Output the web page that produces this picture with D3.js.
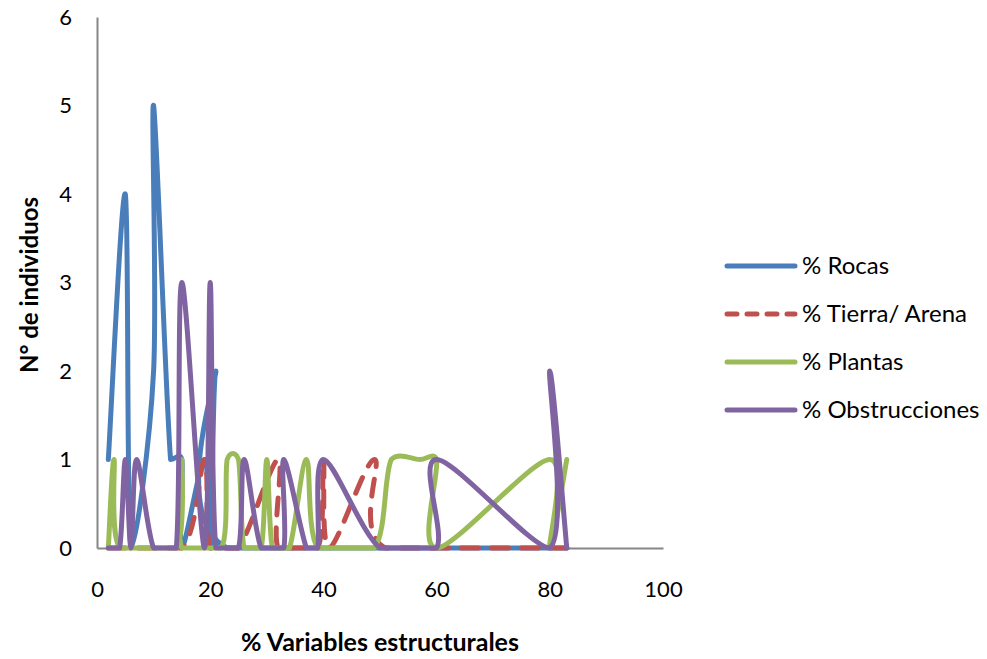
<!DOCTYPE html>
<html>
<head>
<meta charset="utf-8">
<script src="https://cdn.jsdelivr.net/npm/d3@7"></script>
<style>
    body { margin: 0; background: #fff; }
    svg text { font-family: Lato, "Open Sans", sans-serif; fill: #000; }
</style>
</head>
<body>
<svg id="chart"></svg>
<script>
const seriesNames = ["% Rocas", "% Tierra/ Arena", "% Plantas", "% Obstrucciones"];
const colors = ["#4a7ebb", "#c0504d", "#9bbb59", "#8064a2"];

// % values (x) and N° de individuos (y)
const rocasX = [2, 5, 6, 10, 10, 13, 15, 15, 19, 20, 21, 23, 83];
const rocasY = [1, 4, 0, 2, 5, 1, 1, 0, 1, 0, 2, 0, 0];

const tierraX = [2, 15, 19, 20, 25, 32, 32, 39, 40, 41, 49, 51, 83];
const tierraY = [0, 0, 1, 0, 0, 1, 0, 0, 1, 0, 1, 0, 0];

const plantasX = [2, 3, 4, 14, 15, 15, 22, 23, 25, 26, 29, 30, 31, 34, 37, 39, 49, 52, 57, 60, 60, 80, 80, 83];
const plantasY = [0, 1, 0, 0, 1, 0, 0, 1, 1, 0, 0, 1, 0, 0, 1, 0, 0, 1, 1, 1, 0, 1, 0, 1];

const obstX = [2, 4, 5, 6, 7, 10, 14, 15, 19, 20, 21, 25, 26, 29, 33, 33, 37, 39, 40, 50, 60, 60, 80, 80, 83];
const obstY = [0, 0, 1, 0, 1, 0, 0, 3, 0, 3, 0, 0, 1, 0, 0, 1, 0, 0, 1, 0, 0, 1, 0, 2, 0];

const xTicks = [0, 20, 40, 60, 80, 100];
const yTicks = [0, 1, 2, 3, 4, 5, 6];

/* ===== Chart config ===== */
const chart = {
    width: 987,
    height: 659,
    left: 97,
    right: 663,
    top: 17,
    bottom: 548,
    overshoot: 8, // px a smoothed line may rise above its segment (Excel-like bumps)
    svg: d3.select('#chart'),
    x: d3.scaleLinear().domain([0, 100]),
    y: d3.scaleLinear().domain([0, 6])
};

chart.x.range([chart.left, chart.right]);
chart.y.range([chart.bottom, chart.top]);

const data = [
    d3.zip(rocasX, rocasY),
    d3.zip(tierraX, tierraY),
    d3.zip(plantasX, plantasY),
    d3.zip(obstX, obstY)
];

// Catmull-Rom style bezier, control points kept (almost) inside each segment's
// vertical span so flat runs at 0 don't dip under the axis
function smoothPath(points) {
    const p = points.map(d => [chart.x(d[0]), chart.y(d[1])]);
    const n = p.length;
    const m = p.map((d, i) => {
        const a = p[Math.max(i - 1, 0)], b = p[Math.min(i + 1, n - 1)];
        return [(b[0] - a[0]) / 2, (b[1] - a[1]) / 2];
    });
    const path = d3.path();
    path.moveTo(p[0][0], p[0][1]);
    for (let i = 0; i < n - 1; i++) {
        const lo = Math.min(p[i][1], p[i + 1][1]) - chart.overshoot;
        const hi = Math.max(p[i][1], p[i + 1][1]);
        const clamp = v => Math.max(lo, Math.min(hi, v));
        path.bezierCurveTo(
            p[i][0] + m[i][0] / 3, clamp(p[i][1] + m[i][1] / 3),
            p[i + 1][0] - m[i + 1][0] / 3, clamp(p[i + 1][1] - m[i + 1][1] / 3),
            p[i + 1][0], p[i + 1][1]);
    }
    return path.toString();
}

chart.svg.attr('width', chart.width).attr('height', chart.height);

// Axes: plain gray lines, no tick marks
const xAxis = d3.axisBottom(chart.x).tickValues(xTicks).tickFormat(d3.format('d')).tickSize(0).tickPadding(33);
const yAxis = d3.axisLeft(chart.y).tickValues(yTicks).tickFormat(d3.format('d')).tickSize(0).tickPadding(25);

chart.svg.append('g')
    .attr('transform', `translate(0,${chart.bottom})`)
    .call(xAxis)
    .call(g => g.select('.domain').attr('stroke', '#868686').attr('stroke-width', 2))
    .call(g => g.selectAll('text').attr('font-size', 22).attr('font-family', 'Lato, sans-serif'));

chart.svg.append('g')
    .attr('transform', `translate(${chart.left},0)`)
    .call(yAxis)
    .call(g => g.select('.domain').attr('stroke', '#868686').attr('stroke-width', 2))
    .call(g => g.selectAll('text').attr('font-size', 22).attr('font-family', 'Lato, sans-serif'));

// Series
chart.svg.append('g').selectAll('path')
    .data(data)
    .enter().append('path')
    .attr('d', smoothPath)
    .attr('fill', 'none')
    .attr('stroke', (d, i) => colors[i])
    .attr('stroke-width', 5)
    .attr('stroke-linecap', 'round')
    .attr('stroke-linejoin', 'round')
    .attr('stroke-dasharray', (d, i) => i == 1 ? '17,13' : null);

// Axis titles
chart.svg.append('text')
    .attr('x', 380).attr('y', 651)
    .attr('text-anchor', 'middle')
    .attr('font-size', 25).attr('font-weight', 'bold')
    .text('% Variables estructurales');

chart.svg.append('text')
    .attr('transform', 'translate(38,285) rotate(-90)')
    .attr('text-anchor', 'middle')
    .attr('font-size', 24).attr('font-weight', 'bold')
    .text('N° de individuos');

// Legend
const legend = chart.svg.append('g').selectAll('g')
    .data(seriesNames)
    .enter().append('g')
    .attr('transform', (d, i) => `translate(727,${266 + i * 48})`);

legend.append('line')
    .attr('x1', 0).attr('x2', 68)
    .attr('stroke', (d, i) => colors[i])
    .attr('stroke-width', 5)
    .attr('stroke-linecap', 'round')
    .attr('stroke-dasharray', (d, i) => i == 1 ? '10,10' : null);

legend.append('text')
    .attr('x', 75).attr('dy', '0.35em')
    .attr('font-size', 24)
    .text(d => d);
</script>
</body>
</html>
